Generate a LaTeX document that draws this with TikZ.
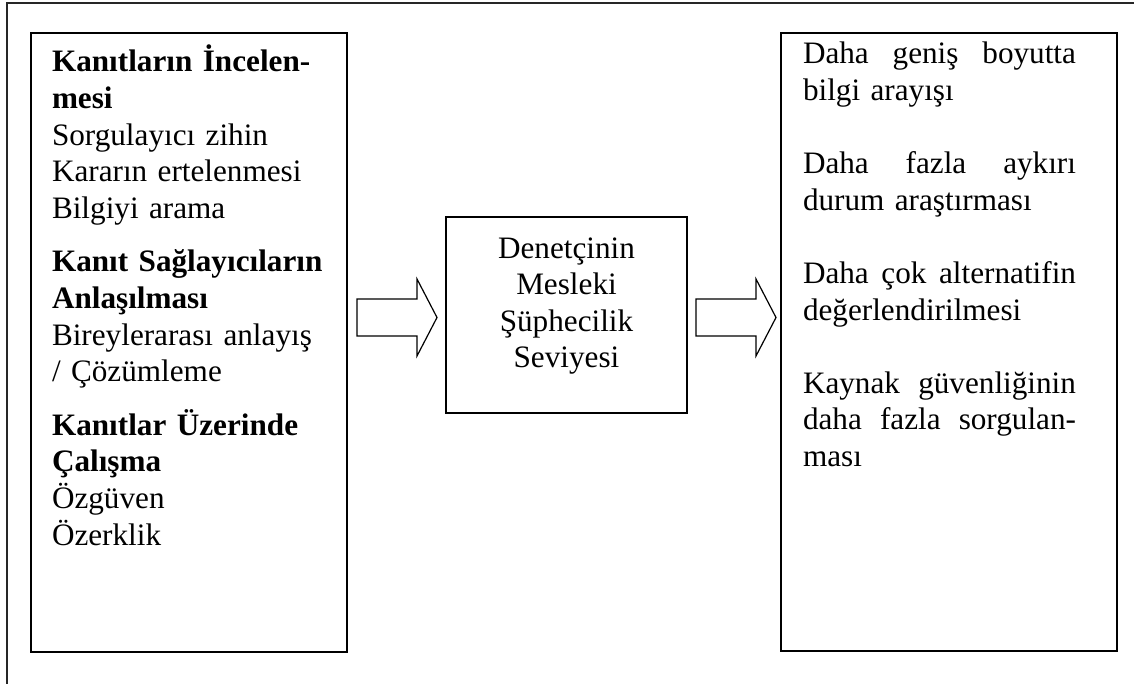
\documentclass[tikz,border=0pt]{standalone}
\usepackage{fontspec}
\setmainfont{Liberation Serif}
\usetikzlibrary{calc}

% block (hollow) arrow from tail point #1 to tip point #2, drawn horizontally
\newcommand\hollowarrow[2]{%
  \draw[blockarrow] let \p1=(#1), \p2=(#2) in
    (\x1,\y1+9.25pt) -- (\x2-10pt,\y1+9.25pt) -- (\x2-10pt,\y1+19.25pt)
    -- (\x2,\y1) -- (\x2-10pt,\y1-19.25pt) -- (\x2-10pt,\y1-9.25pt)
    -- (\x1,\y1-9.25pt) -- cycle;}

% a justified line filling the right-hand text column
\newcommand\fullline[1]{\leavevmode\hbox to 136.5pt{#1}}

\begin{document}
\begin{tikzpicture}[x=0.5pt,y=-0.5pt,
  box/.style={draw=black, line width=0.9pt, inner sep=0pt, outer sep=0pt},
  frameline/.style={draw=black!85, line width=1pt},
  blockarrow/.style={draw=black, line width=0.6pt, line join=miter},
  bodytext/.style={inner sep=0pt, outer sep=0pt,
    font=\fontsize{15.6pt}{18.3pt}\selectfont}]
  \useasboundingbox (0,0) rectangle (1134,684);

  % enclosing frame (only its top and left edges fall inside the figure)
  \coordinate (fA) at (1134,3);
  \coordinate (fB) at (7,3);
  \coordinate (fC) at (7,684);
  \draw[frameline] (fA) -- (fB) -- (fC);

  % the three boxes
  \node[box, minimum width=158pt, minimum height=309.5pt] (L) at (189,342.5) {};
  \node[box, minimum width=120.5pt, minimum height=98pt] (M) at (566.5,315) {};
  \node[box, minimum width=168pt, minimum height=309pt] (R) at (949,342) {};

  % left box contents
  \node[bodytext, anchor=base west, text width=145pt, align=left] (Lt) at (52,72)
    {\textbf{Kanıtların İncelen-}\\
     \textbf{mesi}\\
     Sorgulayıcı zihin\\
     Kararın ertelenmesi\\
     Bilgiyi arama\\[8.5pt]
     \textbf{Kanıt Sağlayıcıların}\\
     \textbf{Anlaşılması}\\
     Bireylerarası anlayış\\
     / Çözümleme\\[8.5pt]
     \textbf{Kanıtlar Üzerinde}\\
     \textbf{Çalışma}\\
     Özgüven\\
     Özerklik};

  % middle box contents
  \node[bodytext, anchor=base, text width=115pt, align=center] (Mt) at (566.5,258)
    {Denetçinin\\ Mesleki\\ Şüphecilik\\ Seviyesi};

  % right box contents
  \node[bodytext, anchor=base west, text width=140pt, align=left] (Rt) at (803,64)
    {\fullline{Daha\hfill geniş\hfill boyutta}\\
     bilgi arayışı\\[18.3pt]
     \fullline{Daha\hfill fazla\hfill aykırı}\\
     durum araştırması\\[18.3pt]
     \fullline{Daha\hfill çok\hfill alternatifin}\\
     değerlendirilmesi\\[18.3pt]
     \fullline{Kaynak\hfill güvenliğinin}\\
     \fullline{daha\hfill fazla\hfill sorgulan-}\\
     ması};

  % hollow arrows between the boxes
  \hollowarrow{$(L.east |- M.west)+(10,2.5)$}{$(M.west)+(-9,2.5)$}
  \hollowarrow{$(M.east)+(9,2.5)$}{$(R.west |- M.east)+(-5,2.5)$}
\end{tikzpicture}
\end{document}
